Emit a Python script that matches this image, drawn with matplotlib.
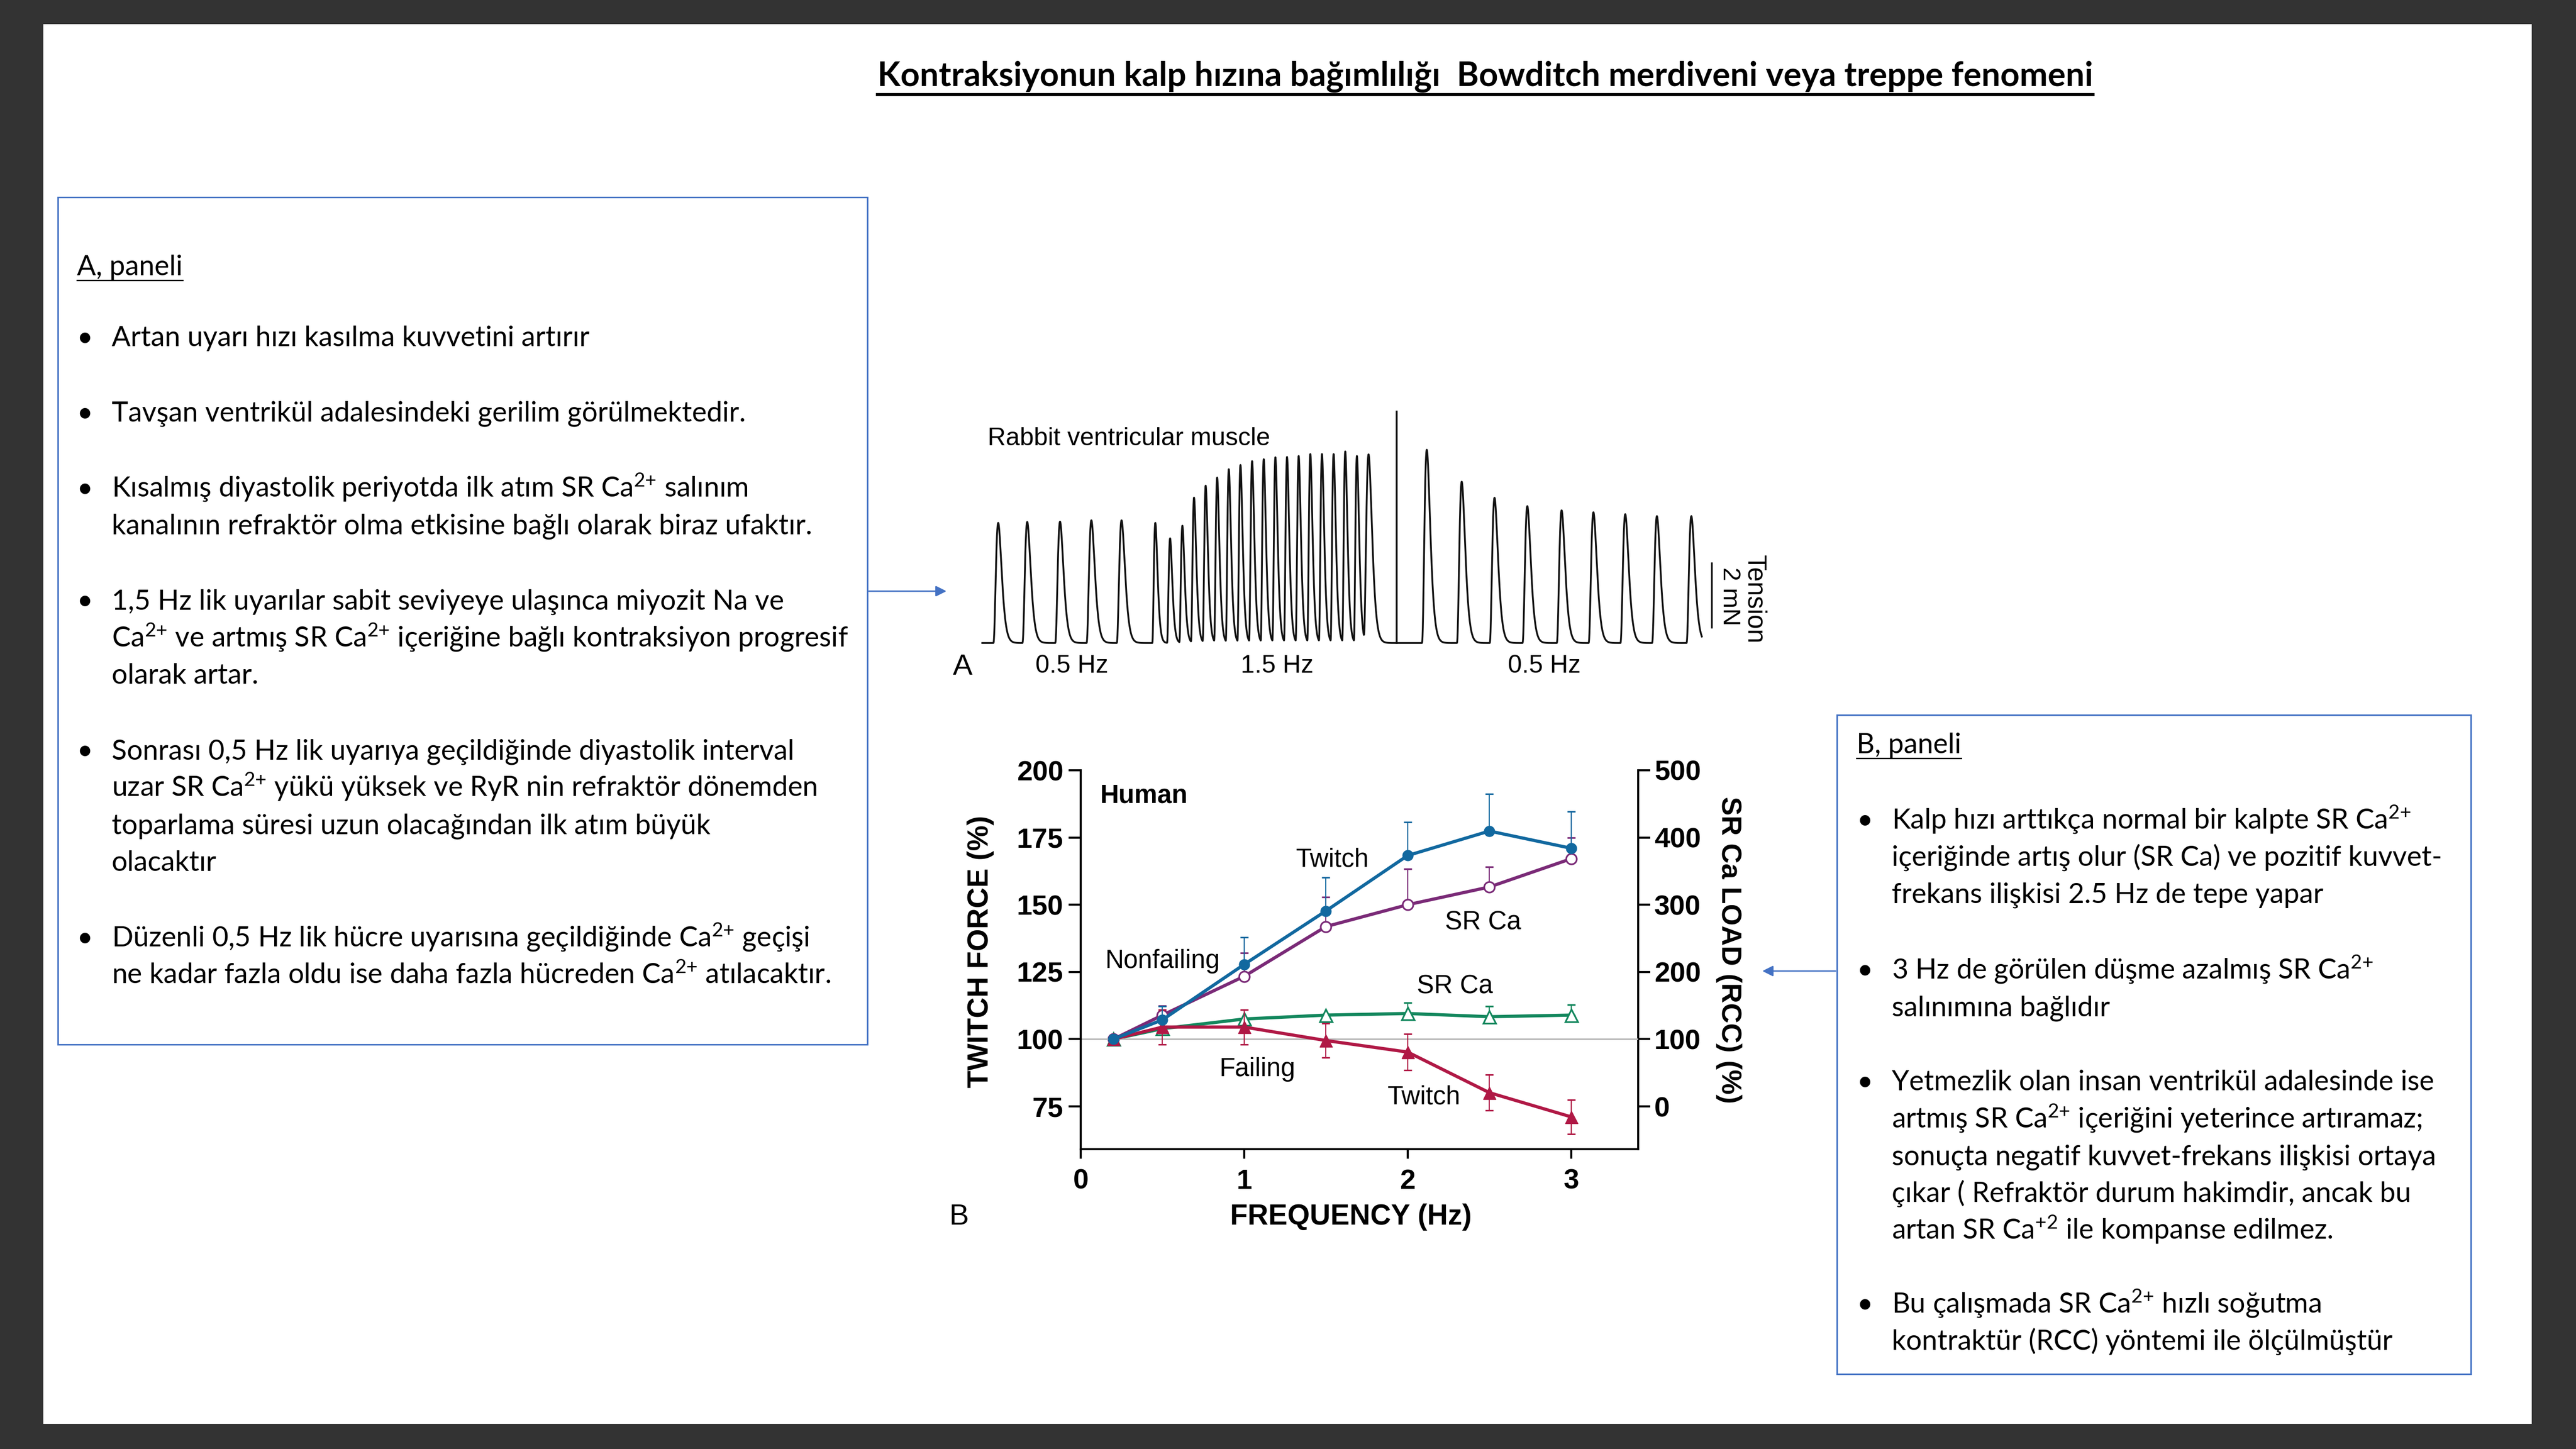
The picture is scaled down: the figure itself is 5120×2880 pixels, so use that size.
import numpy as np
import matplotlib
matplotlib.use('Agg')
import matplotlib.pyplot as plt
from matplotlib import patches
from matplotlib.lines import Line2D

W, H = 5120, 2880


def fx(x):
    return x / W


def fy(y):
    return 1 - y / H


# ---------------- slide text ----------------
title = 'Kontraksiyonun kalp hızına bağımlılığı  Bowditch merdiveni veya treppe fenomeni'

panel_a_head = 'A, paneli'
panel_a_text = [
    ['Artan uyarı hızı kasılma kuvvetini artırır'],
    ['Tavşan ventrikül adalesindeki gerilim görülmektedir.'],
    ['Kısalmış diyastolik periyotda ilk atım SR Ca$^{2{+}}$ salınım',
     'kanalının refraktör olma etkisine bağlı olarak biraz ufaktır.'],
    ['1,5 Hz lik uyarılar sabit seviyeye ulaşınca miyozit Na ve',
     'Ca$^{2{+}}$ ve artmış SR Ca$^{2{+}}$ içeriğine bağlı kontraksiyon progresif',
     'olarak artar.'],
    ['Sonrası 0,5 Hz lik uyarıya geçildiğinde diyastolik interval',
     'uzar SR Ca$^{2{+}}$ yükü yüksek ve RyR nin refraktör dönemden',
     'toparlama süresi uzun olacağından ilk atım büyük',
     'olacaktır'],
    ['Düzenli 0,5 Hz lik hücre uyarısına geçildiğinde Ca$^{2{+}}$ geçişi',
     'ne kadar fazla oldu ise daha fazla hücreden Ca$^{2{+}}$ atılacaktır.'],
]

panel_b_head = 'B, paneli'
panel_b_text = [
    ['Kalp hızı arttıkça normal bir kalpte SR Ca$^{2{+}}$',
     'içeriğinde artış olur (SR Ca) ve pozitif kuvvet-',
     'frekans ilişkisi 2.5 Hz de tepe yapar'],
    ['3 Hz de görülen düşme azalmış SR Ca$^{2{+}}$',
     'salınımına bağlıdır'],
    ['Yetmezlik olan insan ventrikül adalesinde ise',
     'artmış SR Ca$^{2{+}}$ içeriğini yeterince artıramaz;',
     'sonuçta negatif kuvvet-frekans ilişkisi ortaya',
     'çıkar ( Refraktör durum hakimdir, ancak bu',
     'artan SR Ca$^{{+}2}$ ile kompanse edilmez.'],
    ['Bu çalışmada SR Ca$^{2{+}}$ hızlı soğutma',
     'kontraktür (RCC) yöntemi ile ölçülmüştür'],
]

# ---------------- panel A: rabbit ventricular muscle trace ----------------
beat_time = [0.0, 1.77, 3.77, 5.68, 7.52, 9.58,
             10.48, 11.23, 11.94, 12.65, 13.35, 14.06, 14.77, 15.48, 16.19,
             16.90, 17.61, 18.32, 19.03, 19.74, 20.45, 21.16, 21.87, 22.58,
             26.13, 28.26, 30.26, 32.26, 34.35, 36.29, 38.23, 40.16, 42.26]
beat_tension = [3.73, 3.76, 3.77, 3.81, 3.81, 3.73,
                3.25, 3.64, 4.51, 4.88, 5.13, 5.39, 5.52, 5.64, 5.70,
                5.76, 5.77, 5.80, 5.86, 5.86, 5.86, 5.94, 5.80, 5.85,
                6.00, 5.01, 4.51, 4.25, 4.12, 4.06, 4.00, 3.94, 3.94]
artifact_time = 24.29
artifact_tension = 7.19
rate_labels = ['0.5 Hz', '1.5 Hz', '0.5 Hz']
rate_label_time = [4.5, 17.0, 33.3]

# ---------------- panel B: human force-frequency ----------------
freq = [0.2, 0.5, 1.0, 1.5, 2.0, 2.5, 3.0]
nf_twitch = [100, 107.2, 127.8, 147.7, 168.3, 177.4, 171.0]
nf_twitch_err = [0, 5.1, 10.1, 12.5, 12.4, 13.8, 13.7]
nf_srca = [100, 135.8, 193.5, 267.5, 300.0, 326.4, 368.4]
nf_srca_err = [0, 14, 35, 44, 53, 30, 31]
f_srca = [100, 115.7, 130.0, 135.8, 138.2, 133.4, 135.8]
f_srca_err = [0, 0, 0, 0, 15.7, 15.7, 15.7]
f_twitch = [100, 104.5, 104.5, 99.5, 95.2, 80.1, 71.1]
f_twitch_err = [0, 6.5, 6.5, 6.3, 6.8, 6.6, 6.3]
left_ticks = [75, 100, 125, 150, 175, 200]
right_ticks = [0, 100, 200, 300, 400, 500]
freq_ticks = [0, 1, 2, 3]

BLUE = '#11689f'
PURPLE = '#7a2a77'
GREEN = '#13875d'
RED = '#b01845'
BOX = '#4472c4'

plt.rcParams['font.family'] = ['Liberation Sans', 'DejaVu Sans']
plt.rcParams['mathtext.fontset'] = 'custom'
plt.rcParams['mathtext.rm'] = 'Lato'
plt.rcParams['mathtext.it'] = 'Lato:italic'
plt.rcParams['mathtext.bf'] = 'Lato:bold'

fig = plt.figure(figsize=(W / 100, H / 100), dpi=100)
fig.patch.set_facecolor('#333333')
fig.add_artist(patches.Rectangle((fx(86), fy(2830)), fx(5032) - fx(86),
                                 (2830 - 48) / H, transform=fig.transFigure,
                                 facecolor='white', edgecolor='none', zorder=0))

TXT = dict(family=['Lato', 'DejaVu Sans'], color='black')
BODY = 40

# title
t_title = fig.text(fx(2952), fy(171), title, ha='center', va='baseline',
                   fontsize=48, fontweight='bold', **TXT)
underlined = [(t_title, 188, 4.5)]

# text boxes
fig.add_artist(patches.Rectangle((fx(115), fy(2076)), fx(1724) - fx(115),
                                 (2076 - 392) / H, transform=fig.transFigure,
                                 facecolor='none', edgecolor=BOX, lw=2.2))
fig.add_artist(patches.Rectangle((fx(3651), fy(2731)), fx(4911) - fx(3651),
                                 (2731 - 1421) / H, transform=fig.transFigure,
                                 facecolor='none', edgecolor=BOX, lw=2.2))


def write_box(head, head_xy, paragraphs, starts, bullet_x, text_x, step=74):
    t = fig.text(fx(head_xy[0]), fy(head_xy[1]), head, ha='left',
                 va='baseline', fontsize=BODY, **TXT)
    underlined.append((t, head_xy[1] + 10, 2.0))
    for lines, y0 in zip(paragraphs, starts):
        fig.text(fx(bullet_x), fy(y0 + 18), '•', ha='left', va='baseline',
                 fontsize=BODY, **TXT)
        for i, line in enumerate(lines):
            fig.text(fx(text_x), fy(y0 + 18 + i * step), line, ha='left',
                     va='baseline', fontsize=BODY, **TXT)


write_box(panel_a_head, (153, 547), panel_a_text,
          [670, 820, 970, 1193, 1491, 1863], 152, 222)
write_box(panel_b_head, (3690, 1497), panel_b_text,
          [1629, 1927, 2149, 2591], 3690, 3760)

# arrows from boxes to the figures
for start, end in [((1724, 1175), (1884, 1175)), ((3651, 1930), (3500, 1930))]:
    fig.add_artist(patches.FancyArrowPatch((fx(start[0]), fy(start[1])),
                                           (fx(end[0]), fy(end[1])),
                                           transform=fig.transFigure,
                                           arrowstyle='-|>', mutation_scale=32,
                                           color=BOX, lw=2))

# ---- panel A trace ----
axa = fig.add_axes([fx(1950), fy(1300), (3520 - 1950) / W, 500 / H])
px_per_s = 32.6
axa.set_xlim(-34 / px_per_s, (3520 - 1984) / px_per_s)
axa.set_ylim(-22 / 64, 478 / 64)
axa.axis('off')

t = np.linspace(-0.97, 42.9, 8000)
trace = np.zeros_like(t)
for i, (tb, amp) in enumerate(zip(beat_time, beat_tension)):
    gap = beat_time[i + 1] - tb if i + 1 < len(beat_time) else 9.0
    tp = 0.3 if gap > 1.2 else 0.19
    tau = (t - (tb - tp)) / tp
    tau = np.clip(tau, 0, None)
    trace += amp * tau ** 3 * np.exp(3 * (1 - tau))
axa.plot(t, trace, color='#111111', lw=2.6, solid_joinstyle='round')
axa.plot([artifact_time, artifact_time], [0, artifact_tension],
         color='#111111', lw=2.6)
axa.plot([43.5, 43.5], [0.48, 2.48], color='#111111', lw=2.4, clip_on=False)
axa.text(44.6, 1.45, '2 mN', rotation=270, ha='center', va='center',
         fontsize=35, clip_on=False)
axa.text(46.1, 1.35, 'Tension', rotation=270, ha='center', va='center',
         fontsize=37, clip_on=False)
axa.text(-0.64, 6.34, 'Rabbit ventricular muscle', ha='left', va='center',
         fontsize=36)
axa.text(-2.75, -0.75, 'A', ha='left', va='center', fontsize=42)
for lab, xt in zip(rate_labels, rate_label_time):
    axa.text(xt, -0.72, lab, ha='center', va='center', fontsize=36)

# ---- panel B force-frequency ----
ax = fig.add_axes([fx(2148), fy(2284), (3256 - 2148) / W, (2284 - 1531) / H])
ax2 = ax.twinx()
ax.set_zorder(ax2.get_zorder() + 1)
ax.patch.set_visible(False)
ax.set_xlim(0, 3.41)
ax.set_ylim(59.1, 200)
ax2.set_ylim(4 * 59.1 - 300, 500)

ax.axhline(100, color='#b8b8b8', lw=2.2, zorder=1)

zeros = [0] * len(freq)
ax2.errorbar(freq, f_srca, yerr=[zeros, f_srca_err], fmt='-^', color=GREEN,
             lw=4.6, ms=18, mfc='white', mec=GREEN, mew=2.4, elinewidth=1.6,
             capsize=6, capthick=2.2, zorder=3)
ax2.errorbar(freq, nf_srca, yerr=[zeros, nf_srca_err], fmt='-o', color=PURPLE,
             lw=4.6, ms=15, mfc='white', mec=PURPLE, mew=2.4, elinewidth=1.6,
             capsize=6, capthick=2.2, zorder=4)
ax.errorbar(freq, f_twitch, yerr=f_twitch_err, fmt='-^', color=RED,
            lw=4.6, ms=18, elinewidth=1.6, capsize=6, capthick=2.2, zorder=3)
ax.errorbar(freq, nf_twitch, yerr=[zeros, nf_twitch_err], fmt='-o', color=BLUE,
            lw=4.6, ms=15, elinewidth=1.6, capsize=6, capthick=2.2, zorder=4)

for a in (ax, ax2):
    a.spines['top'].set_visible(False)
    for s in a.spines.values():
        s.set_linewidth(3)
ax.spines['right'].set_visible(False)
ax2.spines['left'].set_visible(False)
ax2.spines['bottom'].set_visible(False)

ax.set_xticks(freq_ticks)
ax.set_yticks(left_ticks)
ax2.set_yticks(right_ticks)
ax.tick_params(axis='y', length=17, width=3, pad=8, labelsize=40)
ax.tick_params(axis='x', length=14, width=3, pad=14, labelsize=40)
ax2.tick_params(axis='y', length=17, width=3, pad=6, labelsize=40)
for lbl in ax.get_xticklabels() + ax.get_yticklabels() + ax2.get_yticklabels():
    lbl.set_fontweight('bold')

ax.text(0.12, 190.5, 'Human', ha='left', va='center', fontsize=37,
        fontweight='bold')
ax.text(1.54, 166.6, 'Twitch', ha='center', va='center', fontsize=37)
ax.text(2.46, 143.3, 'SR Ca', ha='center', va='center', fontsize=37)
ax.text(0.5, 129.0, 'Nonfailing', ha='center', va='center', fontsize=37)
ax.text(2.29, 119.5, 'SR Ca', ha='center', va='center', fontsize=37)
ax.text(1.08, 88.8, 'Failing', ha='center', va='center', fontsize=37)
ax.text(2.1, 78.3, 'Twitch', ha='center', va='center', fontsize=37)

fig.text(fx(1949), fy(1891), 'TWITCH FORCE (%)', rotation=90, ha='center',
         va='center', fontsize=41, fontweight='bold')
fig.text(fx(3436), fy(1888), 'SR Ca LOAD (RCC) (%)', rotation=270,
         ha='center', va='center', fontsize=40, fontweight='bold')
fig.text(fx(2685), fy(2419), 'FREQUENCY (Hz)', ha='center', va='center',
         fontsize=41, fontweight='bold')
fig.text(fx(1886), fy(2419), 'B', ha='left', va='center', fontsize=42)

# underline the headings
fig.canvas.draw()
renderer = fig.canvas.get_renderer()
for txt, y_px, lw in underlined:
    bb = txt.get_window_extent(renderer)
    fig.add_artist(Line2D([bb.x0 / W, bb.x1 / W], [fy(y_px), fy(y_px)],
                          transform=fig.transFigure, color='black', lw=lw))

fig.savefig('out.png', dpi=100, facecolor=fig.get_facecolor())
